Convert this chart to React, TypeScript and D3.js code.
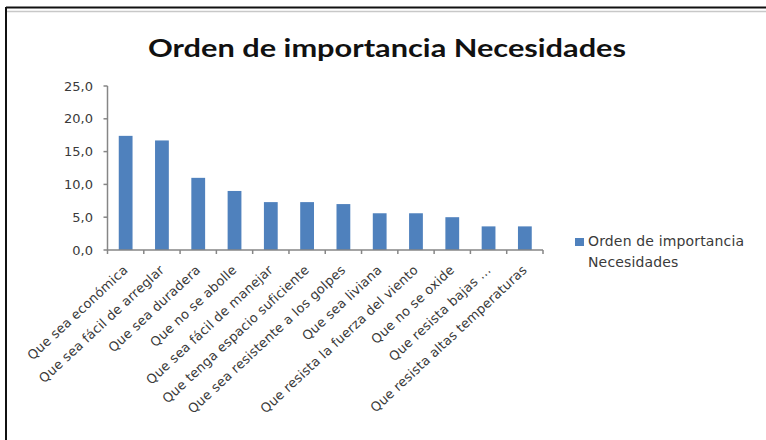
import React from "react";
import * as d3 from "d3";

const categories = [
  "Que sea económica",
  "Que sea fácil de arreglar",
  "Que sea duradera",
  "Que no se abolle",
  "Que sea fácil de manejar",
  "Que tenga espacio suficiente",
  "Que sea resistente a los golpes",
  "Que sea liviana",
  "Que resista la fuerza del viento",
  "Que no se oxide",
  "Que resista bajas ...",
  "Que resista altas temperaturas",
];
const values = [17.4, 16.7, 11.0, 9.0, 7.3, 7.3, 7.0, 5.6, 5.6, 5.0, 3.6, 3.6];
const yTicks = [0, 5, 10, 15, 20, 25];
const title = "Orden de importancia Necesidades";
const legendLines = ["Orden de importancia", "Necesidades"];

const W = 766;
const H = 440;
const left = 107.5;
const right = 543;
const top = 86;
const bottom = 250;
const font = "'DejaVu Sans', 'Open Sans', sans-serif";
const titleFont = "Lato, 'Open Sans', sans-serif";
const barColor = "#4F81BD";
const axisColor = "#868686";
const textColor = "#3a3a3a";

export default function App() {
  const x = d3.scaleBand<string>().domain(categories).range([left, right]).paddingInner(0.62).paddingOuter(0.31);
  const y = d3.scaleLinear().domain([0, 25]).range([bottom, top]);
  const step = (right - left) / categories.length;
  const fmt = (v: number) => v.toFixed(1).replace(".", ",");

  return (
    <svg width={W} height={H} style={{ position: "absolute", left: 0, top: 0, background: "#fff" }}>
      <rect x={0} y={0} width={W} height={H} fill="#fff" />
      {/* frame */}
      <line x1={6} y1={7.5} x2={W} y2={7.5} stroke="#111" strokeWidth={2} />
      <line x1={6} y1={7} x2={6} y2={H} stroke="#111" strokeWidth={2} />
      <line x1={7} y1={11.5} x2={W} y2={11.5} stroke="#c8c8c8" strokeWidth={1.5} />

      <text x={387} y={57} textAnchor="middle" fontFamily={titleFont} fontWeight="bold" fontSize={25} fill="#111" textLength={478} lengthAdjust="spacingAndGlyphs">
        {title}
      </text>

      {/* y axis */}
      <line x1={left} y1={top} x2={left} y2={bottom} stroke={axisColor} strokeWidth={1.5} />
      {yTicks.map((t) => (
        <g key={t}>
          <line x1={left - 4} x2={left} y1={y(t)} y2={y(t)} stroke={axisColor} strokeWidth={1.5} />
          <text x={93} y={y(t) + 4.5} textAnchor="end" fontFamily={font} fontSize={13} fill={textColor}>
            {fmt(t)}
          </text>
        </g>
      ))}

      {/* bars */}
      {categories.map((c, i) => (
        <rect key={c} x={x(c)} y={y(values[i])} width={x.bandwidth()} height={bottom - y(values[i])} fill={barColor} />
      ))}

      {/* x axis */}
      <line x1={left} y1={bottom} x2={right} y2={bottom} stroke={axisColor} strokeWidth={1.5} />
      {d3.range(categories.length + 1).map((i) => (
        <line key={i} x1={left + i * step} x2={left + i * step} y1={bottom} y2={bottom + 4} stroke={axisColor} strokeWidth={1.5} />
      ))}
      {categories.map((c) => {
        const cx = (x(c) as number) + x.bandwidth() / 2 + 3;
        const cy = 271;
        return (
          <text key={c} x={cx} y={cy} textAnchor="end" transform={`rotate(-43 ${cx} ${cy})`} fontFamily={font} fontSize={13} letterSpacing={0.2} fill={textColor}>
            {c}
          </text>
        );
      })}

      {/* legend */}
      <rect x={575} y={238} width={9} height={8} fill={barColor} />
      {legendLines.map((l, i) => (
        <text key={l} x={588} y={246 + i * 21} fontFamily={font} fontSize={14} letterSpacing={0.15} fill={textColor}>
          {l}
        </text>
      ))}
    </svg>
  );
}
